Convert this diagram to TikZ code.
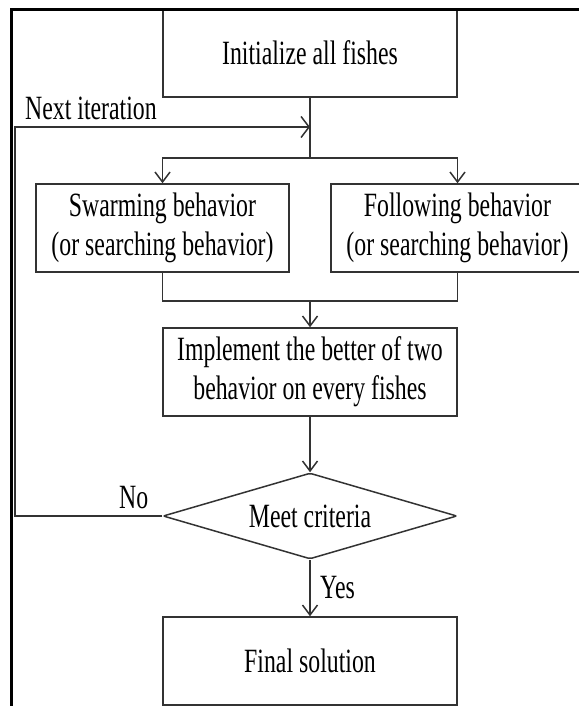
\documentclass[tikz,border=0pt]{standalone}
\usepackage{fontspec}
\setmainfont[FakeStretch=0.70]{Liberation Serif}
\usetikzlibrary{shapes.geometric,arrows.meta}

\tikzset{
  flowline/.style={draw=black!80, line width=1.5pt},
  procbox/.style={flowline, rectangle, inner sep=0pt, align=center,
    minimum width=294pt, minimum height=88pt},
  sidebox/.style={procbox, minimum width=253pt},
  decision/.style={flowline, diamond, aspect=3.42, inner sep=0pt, align=center,
    minimum width=294pt, minimum height=86pt, rounded corners=2pt},
  varrow/.style={flowline, -{Straight Barb[length=10pt,width=15pt,line width=1.5pt]}},
  harrow/.style={flowline, -{Straight Barb[length=8pt,width=21pt,line width=1.5pt]}},
  lbl/.style={inner sep=0pt, anchor=base west},
}

\begin{document}
\begin{tikzpicture}[x=1pt, y=-1pt, font=\fontsize{34}{39}\selectfont]
  \useasboundingbox (0,0) rectangle (578,706);

  % process steps
  \node[procbox] (init) at (310,53) {Initialize all fishes};
  \node[sidebox] (swarm) at (162.5,228) {Swarming behavior\\(or searching behavior)};
  \node[sidebox] (follow) at (457.5,228) {Following behavior\\(or searching behavior)};
  \node[procbox] (impl) at (310,372) {Implement the better of two\\behavior on every fishes};
  \node[decision] (crit) at (310,516) {Meet criteria};
  \node[procbox] (final) at (310,661) {Final solution};

  % junction points of the connectors
  \coordinate (split) at (310,158);
  \coordinate (merge) at (310,301);
  \coordinate (join) at (310,127);
  \coordinate (loopbot) at (15,516);
  \coordinate (looptop) at (15,127);

  % main flow
  \draw[flowline] (init.south) -- (split);
  \draw[varrow] (split) -| (swarm.north);
  \draw[varrow] (split) -| (follow.north);
  \draw[flowline] (swarm.south) |- (merge);
  \draw[flowline] (follow.south) |- (merge);
  \draw[varrow] (merge) -- (impl.north);
  \draw[varrow] (impl.south) -- (crit.north);
  \draw[varrow] (crit.south) -- (final.north);

  % feedback loop
  \draw[harrow] (crit.west) -- (loopbot) -- (looptop) -- (join);

  % labels
  \node[lbl] (nextlbl) at (25,120) {Next iteration};
  \node[lbl] (nolbl) at (119,508) {No};
  \node[lbl] (yeslbl) at (320,598) {Yes};

  % outer frame
  \draw[line width=2.6pt, black] (11.3,730) -- (11.3,9.3) -- (600,9.3);
\end{tikzpicture}
\end{document}
